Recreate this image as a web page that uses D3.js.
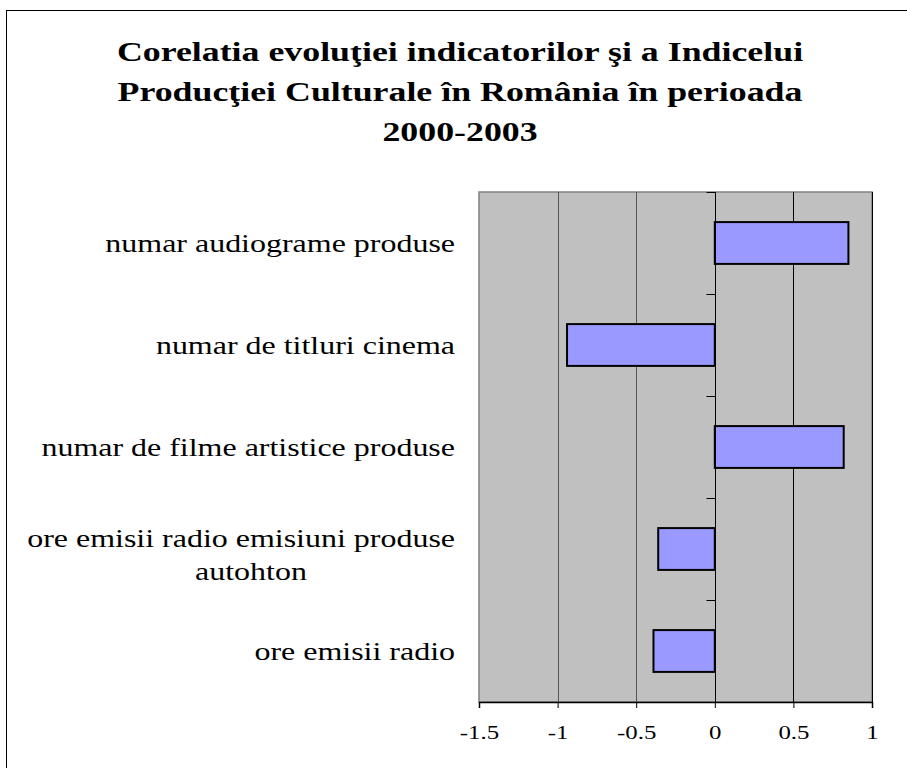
<!DOCTYPE html>
<html>
<head>
<meta charset="utf-8">
<script src="https://cdn.jsdelivr.net/npm/d3@7"></script>
<style>
  body { margin: 0; background: #fff; }
  svg { display: block; }
</style>
</head>
<body>
<div id="chart"></div>
<script>
var titleLines = ["Corelatia evoluţiei indicatorilor şi a Indicelui",
                  "Producţiei Culturale în România în perioada",
                  "2000-2003"];
var categories = ["numar audiograme produse",
                  "numar de titluri cinema",
                  "numar de filme artistice produse",
                  "ore emisii radio emisiuni produse autohton",
                  "ore emisii radio"];
var values = [0.85, -0.94, 0.82, -0.36, -0.39];
var xTicks = [-1.5, -1, -0.5, 0, 0.5, 1];

var W = 907, H = 768;
var margin = {top: 192, right: 35, bottom: 66, left: 479};
var width = 872 - margin.left,
    height = 702 - margin.top;
var serif = "'Liberation Serif', 'Times New Roman', serif";

var svg = d3.select("#chart").append("svg")
    .attr("width", W)
    .attr("height", H);

// outer frame
svg.append("rect")
    .attr("x", 6.5).attr("y", 10.5)
    .attr("width", W + 10).attr("height", H + 10)
    .attr("fill", "none").attr("stroke", "#000").attr("stroke-width", 1);

// title (the original text is stretched horizontally)
svg.append("g").selectAll("g")
    .data(titleLines)
    .enter().append("g")
    .attr("transform", function(d, i) { return "translate(460," + (61 + i * 40) + ") scale(1.28,1)"; })
    .append("text")
    .attr("text-anchor", "middle")
    .style("font-family", serif)
    .style("font-weight", "bold")
    .style("font-size", "28px")
    .text(function(d) { return d; });

var g = svg.append("g")
    .attr("transform", "translate(" + margin.left + "," + margin.top + ")");

var x = d3.scaleLinear().domain([-1.5, 1]).range([0, width]);
var y = d3.scaleBand().domain(categories).range([0, height]).paddingInner(0.59).paddingOuter(0.295);
var yb = d3.scaleBand().domain(categories).range([0, height]);

// plot background
g.append("rect")
    .attr("width", width).attr("height", height)
    .attr("fill", "#c0c0c0")
    .attr("stroke", "#808080").attr("stroke-width", 1.5);

// gridlines
g.append("g").selectAll("line")
    .data(xTicks.slice(1))
    .enter().append("line")
    .attr("x1", function(d) { return Math.round(x(d)) + 0.5; })
    .attr("x2", function(d) { return Math.round(x(d)) + 0.5; })
    .attr("y1", 0).attr("y2", height)
    .attr("stroke", function(d) { return d < 0 ? "#555" : "#000"; })
    .attr("stroke-width", 1);

// bars
g.append("g").selectAll("rect")
    .data(values)
    .enter().append("rect")
    .attr("x", function(d) { return x(Math.min(0, d)); })
    .attr("y", function(d, i) { return y(categories[i]); })
    .attr("width", function(d) { return Math.abs(x(d) - x(0)); })
    .attr("height", y.bandwidth())
    .attr("fill", "#9999ff")
    .attr("stroke", "#000")
    .attr("stroke-width", 2);

// category axis at zero, ticks between categories
var z = Math.round(x(0)) + 0.5;
g.append("line")
    .attr("x1", z).attr("x2", z).attr("y1", 0).attr("y2", height)
    .attr("stroke", "#000");
g.append("g").selectAll("line")
    .data(d3.range(categories.length + 1))
    .enter().append("line")
    .attr("x1", z - 9).attr("x2", z)
    .attr("y1", function(i) { return Math.round(i * yb.step()) + 0.5; })
    .attr("y2", function(i) { return Math.round(i * yb.step()) + 0.5; })
    .attr("stroke", "#000");

// category labels (long one wraps on two lines)
var labelRight = 455 - margin.left;
var labelG = g.append("g");
categories.forEach(function(d) {
    var cy = yb(d) + yb.bandwidth() / 2;
    var parts = d.length > 35 ? ["ore emisii radio emisiuni produse", "autohton"] : [d];
    parts.forEach(function(p, i) {
        var lx = i === 0 ? labelRight : labelRight - 204;
        var ly = parts.length === 1 ? cy + 9 : cy - 2 + i * 33;
        labelG.append("g")
            .attr("transform", "translate(" + lx + "," + ly + ") scale(1.23,1)")
            .append("text")
            .attr("text-anchor", i === 0 ? "end" : "middle")
            .style("font-family", serif)
            .style("font-size", "26px")
            .attr("fill", "#000")
            .text(p);
    });
});

// x axis
var xAxis = g.append("g")
    .attr("transform", "translate(0," + height + ")")
    .call(d3.axisBottom(x).tickValues(xTicks).tickSize(6)
        .tickFormat(function(d) { return String(d); }));
xAxis.select(".domain").attr("stroke", "#000").attr("stroke-width", 1.5);
xAxis.selectAll("text")
    .attr("y", 0).attr("dy", 0)
    .attr("transform", "translate(0,37) scale(1.38,1)")
    .style("font-family", serif)
    .style("font-size", "18px")
    .attr("fill", "#000");
</script>
</body>
</html>
